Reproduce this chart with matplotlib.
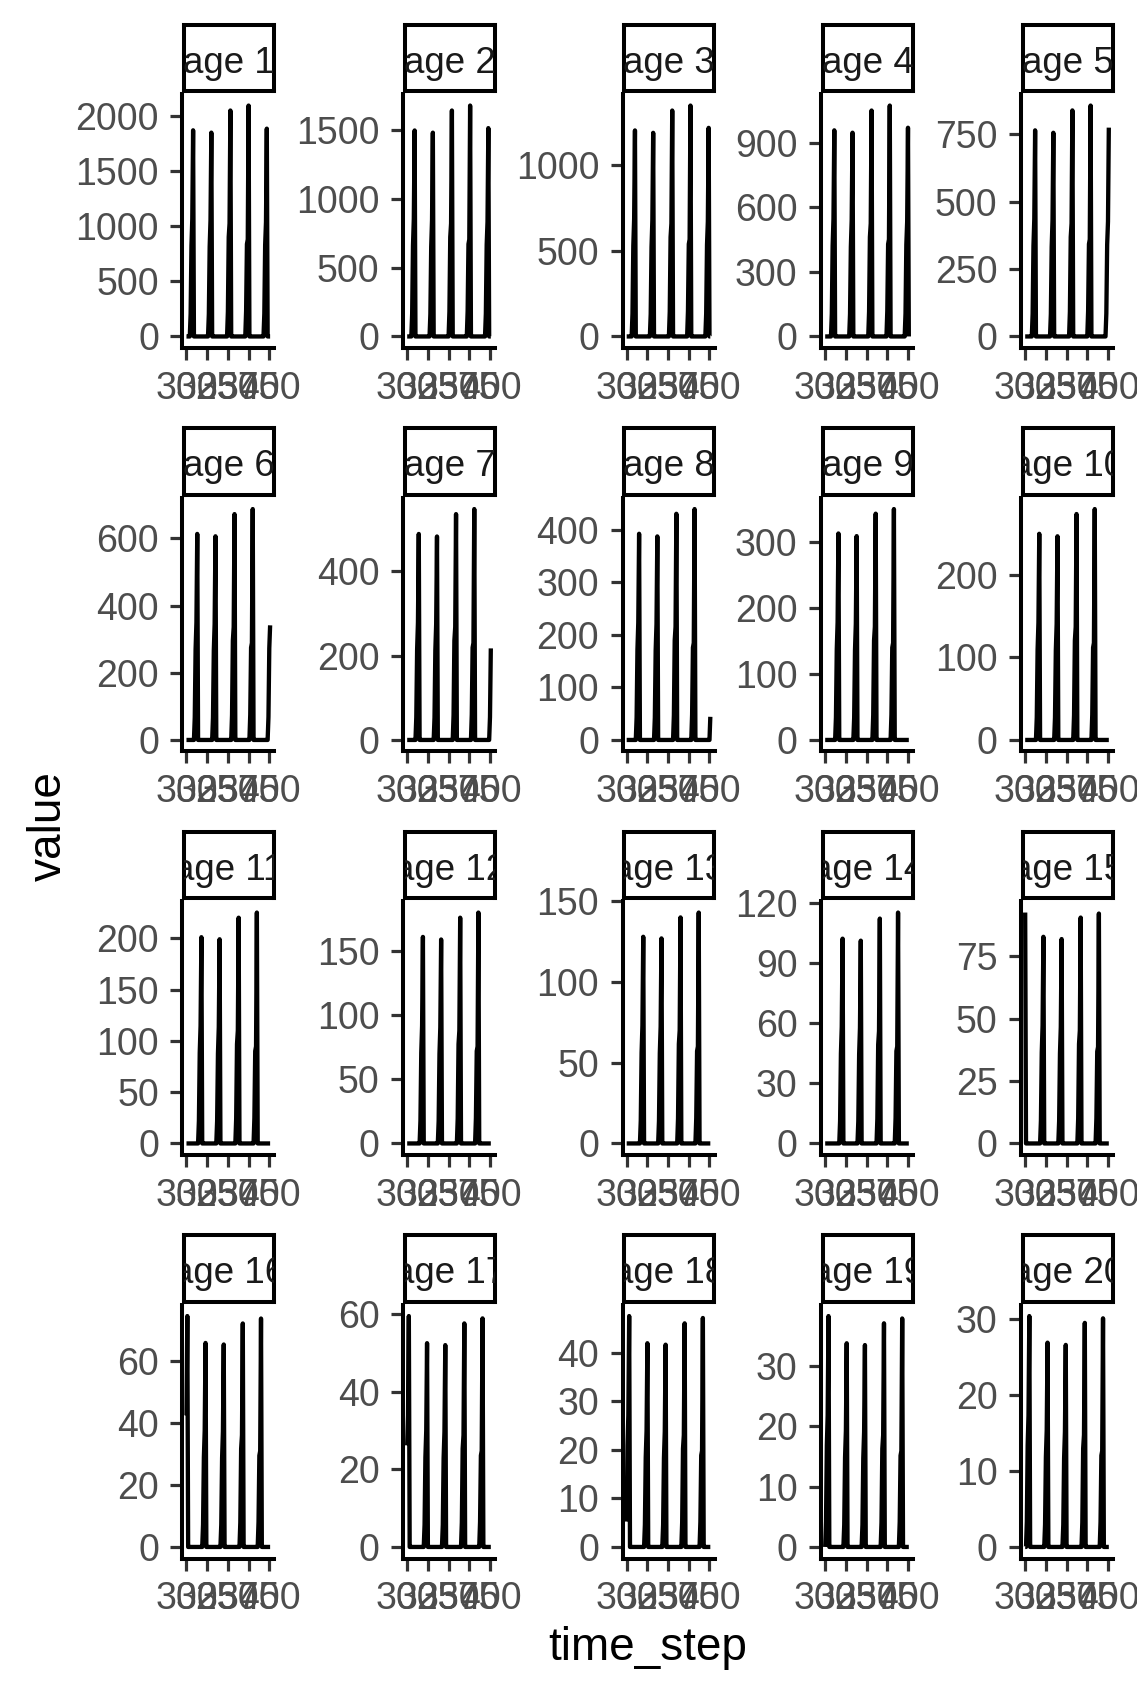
import numpy as np
import matplotlib
matplotlib.use("Agg")
import matplotlib.pyplot as plt

plt.rcParams['font.family'] = ['Liberation Sans', 'DejaVu Sans']

# time axis and pulse timing (age 1; every older age peaks one step later)
time_step = np.arange(300, 402)
peak_step_age1 = [286, 308, 330, 353, 375, 397]
# value before the peak, as share of the peak: 3, 2 and 1 steps ahead
cycle_rise = [[0.11, 0.44, 0.57], [0.11, 0.44, 0.57], [0.11, 0.44, 0.57],
              [0.11, 0.44, 0.50], [0.11, 0.40, 0.42], [0.11, 0.44, 0.55]]

# peak heights per cycle (cycle 0 .. 5)
age_01 = [0, 1874, 1853, 2054, 2099, 1889]
age_02 = [0, 1497, 1481, 1642, 1678, 1514]
age_03 = [0, 1201, 1187, 1317, 1346, 1216]
age_04 = [0, 957, 946, 1049, 1072, 969]
age_05 = [0, 765, 756, 839, 857, 775]
age_06 = [0, 613, 606, 672, 687, 620]
age_07 = [0, 488, 482, 535, 547, 493]
age_08 = [0, 392, 387, 430, 439, 400]
age_09 = [0, 313, 309, 343, 350, 0]
age_10 = [0, 250, 247, 274, 280, 0]
age_11 = [0, 201, 199, 220, 225, 0]
age_12 = [0, 161, 159, 176, 180, 0]
age_13 = [0, 128, 127, 140, 143, 0]
age_14 = [0, 102, 101, 112, 115, 0]
age_15 = [92.4, 82.7, 81.8, 90.4, 92, 0]
age_16 = [74.7, 66, 65.5, 72.3, 73.9, 0]
age_17 = [59.6, 52.6, 52.1, 57.7, 59, 0]
age_18 = [47.6, 42, 41.7, 46.1, 47.2, 0]
age_19 = [38.2, 33.7, 33.4, 37, 37.8, 0]
age_20 = [30.4, 26.9, 26.6, 29.5, 30.1, 0]
peak_heights = [age_01, age_02, age_03, age_04, age_05, age_06, age_07,
                age_08, age_09, age_10, age_11, age_12, age_13, age_14,
                age_15, age_16, age_17, age_18, age_19, age_20]
labels = ["age %d" % i for i in range(1, 21)]

x_breaks = [300, 325, 350, 375, 400]
y_breaks = [[0, 500, 1000, 1500, 2000], [0, 500, 1000, 1500], [0, 500, 1000],
            [0, 300, 600, 900], [0, 250, 500, 750], [0, 200, 400, 600],
            [0, 200, 400], [0, 100, 200, 300, 400], [0, 100, 200, 300],
            [0, 100, 200], [0, 50, 100, 150, 200], [0, 50, 100, 150],
            [0, 50, 100, 150], [0, 30, 60, 90, 120], [0, 25, 50, 75],
            [0, 20, 40, 60], [0, 20, 40, 60], [0, 10, 20, 30, 40],
            [0, 10, 20, 30], [0, 10, 20, 30]]


def build_series(heights, lag):
    v = np.zeros(len(time_step))
    for c, h in enumerate(heights):
        pk = peak_step_age1[c] + lag
        for off, f in zip((-3, -2, -1, 0), cycle_rise[c] + [1.0]):
            i = pk + off - time_step[0]
            if 0 <= i < len(v):
                v[i] = h * f
    return v


W, H, DPI = 1137, 1693, 100
col_left = [182.3, 403, 622.5, 821, 1021]
row_top = [94, 497.5, 901, 1304.5]
panel_w, panel_h = 92, 254

fig = plt.figure(figsize=(W / DPI, H / DPI), dpi=DPI)
fig.patch.set_facecolor("white")

for k in range(20):
    r, c = divmod(k, 5)
    x0, y0 = col_left[c], row_top[r]
    ax = fig.add_axes([x0 / W, 1 - (y0 + panel_h) / H, panel_w / W, panel_h / H])
    ax.plot(time_step, build_series(peak_heights[k], k), color="black", lw=3.1,
            solid_joinstyle="round", solid_capstyle="butt")
    ax.margins(x=0.05, y=0.05)
    ax.set_xticks(x_breaks)
    ax.set_yticks(y_breaks[k])
    ax.set_xticklabels([str(b) for b in x_breaks])
    ax.set_yticklabels([str(b) for b in y_breaks[k]])
    for s in ("top", "right"):
        ax.spines[s].set_visible(False)
    for s in ("left", "bottom"):
        ax.spines[s].set_linewidth(2.9)
        ax.spines[s].set_color("black")
    ax.tick_params(direction="out", length=8.8, width=2.3, color="#333333",
                   labelsize=27, labelcolor="#4D4D4D")
    ax.tick_params(axis="y", pad=8)
    ax.tick_params(axis="x", pad=7.5)

    # facet strip
    st = fig.add_axes([(x0 + 1.5) / W, 1 - (y0 - 2.7) / H, (panel_w - 1.5) / W, 66.6 / H])
    st.set_xticks([])
    st.set_yticks([])
    st.set_facecolor("white")
    for s in st.spines.values():
        s.set_linewidth(2.9)
        s.set_color("black")
    st.text(0.5, 0.28, labels[k], ha="center", va="baseline", fontsize=26.5,
            color="#1A1A1A", clip_on=True, transform=st.transAxes)

fig.text(647.7 / W, 1 - 1660 / H, "time_step", ha="center", va="baseline", fontsize=33)
fig.text(71 / W, 1 - 826 / H, "value", rotation=90, ha="right", va="center", fontsize=33)

fig.savefig("out.png", dpi=DPI, facecolor="white")
